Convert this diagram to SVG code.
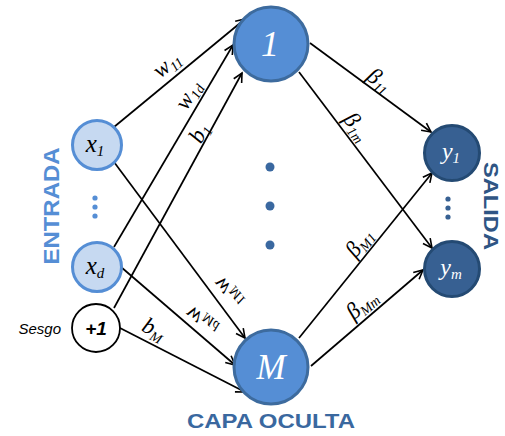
<svg xmlns="http://www.w3.org/2000/svg" width="505" height="436" viewBox="0 0 505 436">
  <style>
    .edge { stroke: #000; stroke-width: 1.7; fill: none; marker-end: url(#arrow); }
    .in { fill: #c6d9f1; stroke: #558ed5; stroke-width: 3; }
    .hid { fill: #558ed5; stroke: #3d6b9e; stroke-width: 3; }
    .out { fill: #376092; stroke: #244a73; stroke-width: 3; }
    .bias { fill: #fff; stroke: #000; stroke-width: 1.8; }
    .math { font-family: "Liberation Serif", "DejaVu Serif", serif; font-style: italic; }
    .lbl { font-family: "Liberation Serif", "DejaVu Serif", serif; font-style: italic; font-size: 23px; fill: #000; text-anchor: middle; }
    .sub { font-size: 14px; }
    .title { font-family: "Liberation Sans", Arial, sans-serif; font-weight: bold; text-anchor: middle; }
  </style>
  <defs>
    <marker id="arrow" markerUnits="userSpaceOnUse" markerWidth="14" markerHeight="14" refX="0" refY="0" viewBox="-11 -7 14 14" orient="auto">
      <path d="M-9,-4.5 L0,0 L-9,4.5" fill="none" stroke="#000" stroke-width="1.6"/>
    </marker>
  </defs>

  <!-- connectors -->
  <g id="connectors">
    <line class="edge" x1="114" y1="127" x2="245" y2="19"/>
    <line class="edge" x1="114" y1="247" x2="233" y2="45"/>
    <line class="edge" x1="114" y1="308" x2="242" y2="73"/>
    <line class="edge" x1="114" y1="162" x2="245" y2="338"/>
    <line class="edge" x1="121" y1="267" x2="235" y2="365"/>
    <line class="edge" x1="120" y1="328" x2="245" y2="392"/>
    <line class="edge" x1="310" y1="43" x2="431" y2="132"/>
    <line class="edge" x1="299" y1="72" x2="432" y2="248"/>
    <line class="edge" x1="299" y1="338" x2="432" y2="173"/>
    <line class="edge" x1="311" y1="366" x2="423" y2="270"/>

    <!-- weight labels -->
    <text class="lbl" transform="translate(168,66) rotate(-39.8)" y="5">w<tspan class="sub" dy="4">11</tspan></text>
    <text class="lbl" transform="translate(190,96) rotate(-59.5)" y="5">w<tspan class="sub" dy="4">1d</tspan></text>
    <text class="lbl" transform="translate(201,134) rotate(-61.4)" y="5">b<tspan class="sub" dy="4">1</tspan></text>
    <text class="lbl" transform="translate(229,292) rotate(53.3) scale(1,-1)" y="5">w<tspan class="sub" dy="4">M1</tspan></text>
    <text class="lbl" transform="translate(202,320) rotate(40.7) scale(1,-1)" y="5">w<tspan class="sub" dy="4">Md</tspan></text>
    <text class="lbl" transform="translate(153,331) rotate(27.1)" y="5">b<tspan class="sub" dy="4">M</tspan></text>
    <text class="lbl" transform="translate(378,82) rotate(36.3)" y="5">β<tspan class="sub" dy="4">11</tspan></text>
    <text class="lbl" transform="translate(355,128) rotate(52.9)" y="5">β<tspan class="sub" dy="4">1m</tspan></text>
    <text class="lbl" transform="translate(361,244) rotate(-51.1)" y="5">β<tspan class="sub" dy="4">M1</tspan></text>
    <text class="lbl" transform="translate(363,306) rotate(-40.6)" y="5">β<tspan class="sub" dy="4">Mm</tspan></text>
  </g>

  <!-- input layer -->
  <g id="x1">
    <circle class="in" cx="97" cy="145" r="24.5"/>
    <text class="math" x="95" y="152" font-size="25" text-anchor="middle" fill="#000">x<tspan font-size="15" dy="4">1</tspan></text>
  </g>
  <g id="xd">
    <circle class="in" cx="97" cy="267" r="24.5"/>
    <text class="math" x="95" y="274" font-size="25" text-anchor="middle" fill="#000">x<tspan font-size="15" dy="4">d</tspan></text>
  </g>
  <g id="input-dots" fill="#558ed5">
    <circle cx="95" cy="198" r="2.6"/>
    <circle cx="95" cy="207" r="2.6"/>
    <circle cx="95" cy="216" r="2.6"/>
  </g>
  <g id="bias">
    <circle class="bias" cx="96" cy="328" r="24"/>
    <text x="96" y="335" font-family="Liberation Sans, Arial, sans-serif" font-weight="bold" font-style="italic" font-size="19" text-anchor="middle" fill="#000">+1</text>
    <text x="61" y="334" font-family="Liberation Sans, Arial, sans-serif" font-style="italic" font-size="15" text-anchor="end" fill="#000">Sesgo</text>
  </g>

  <!-- hidden layer -->
  <g id="h1">
    <circle class="hid" cx="271" cy="44" r="37"/>
    <text class="math" x="270" y="56" font-size="36" text-anchor="middle" fill="#fff">1</text>
  </g>
  <g id="hM">
    <circle class="hid" cx="271" cy="367" r="37"/>
    <text class="math" x="271" y="379" font-size="35" text-anchor="middle" fill="#fff">M</text>
  </g>
  <g id="hidden-dots" fill="#3a68a0">
    <circle cx="270" cy="167" r="4.5"/>
    <circle cx="270" cy="206" r="4.5"/>
    <circle cx="270" cy="245" r="4.5"/>
  </g>

  <!-- output layer -->
  <g id="y1">
    <circle class="out" cx="452" cy="153" r="27.5"/>
    <text class="math" x="451" y="159" font-size="24" text-anchor="middle" fill="#fff">y<tspan font-size="15" dy="4">1</tspan></text>
  </g>
  <g id="ym">
    <circle class="out" cx="452" cy="269" r="27.5"/>
    <text class="math" x="451" y="275" font-size="24" text-anchor="middle" fill="#fff">y<tspan font-size="15" dy="4">m</tspan></text>
  </g>
  <g id="output-dots" fill="#376092">
    <circle cx="448" cy="199" r="2.6"/>
    <circle cx="448" cy="208" r="2.6"/>
    <circle cx="448" cy="217" r="2.6"/>
  </g>

  <!-- layer titles -->
  <text class="title" transform="translate(59,206) rotate(-90)" font-size="22" fill="#558ed5" textLength="117" lengthAdjust="spacingAndGlyphs">ENTRADA</text>
  <text class="title" transform="translate(484,206) rotate(90)" font-size="21" fill="#2f5584" textLength="88" lengthAdjust="spacingAndGlyphs">SALIDA</text>
  <text class="title" x="271" y="428" font-size="20" fill="#3a689f" textLength="168" lengthAdjust="spacingAndGlyphs">CAPA OCULTA</text>
</svg>
